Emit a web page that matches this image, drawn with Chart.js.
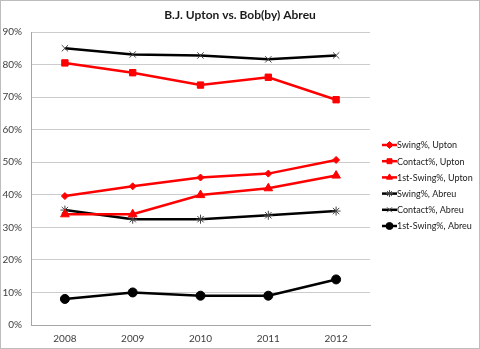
<!DOCTYPE html>
<html>
<head>
<meta charset="utf-8">
<script src="https://cdn.jsdelivr.net/npm/chart.js@4/dist/chart.umd.min.js"></script>
<style>
  html, body { margin: 0; padding: 0; background: #fff; }
  #wrap { width: 480px; height: 349px; position: relative; }
</style>
</head>
<body>
<div id="wrap"><canvas id="c" width="480" height="349"></canvas></div>
<script>
// Plate-discipline rates by season (percent)
const seasons = ['2008', '2009', '2010', '2011', '2012'];
const swingUpton        = [39.6, 42.6, 45.3, 46.5, 50.7];
const contactUpton      = [80.5, 77.5, 73.7, 76.1, 69.2];
const firstSwingUpton   = [34.0, 34.0, 39.9, 42.0, 45.9];
const swingAbreu        = [35.3, 32.5, 32.5, 33.7, 35.0];
const contactAbreu      = [85.0, 83.1, 82.8, 81.6, 82.8];
const firstSwingAbreu   = [8.0, 10.0, 9.0, 9.0, 14.0];
const yTicks = [0, 10, 20, 30, 40, 50, 60, 70, 80, 90];

const FONT = 'Lato, "Liberation Sans", sans-serif';
const RED = '#ff0000';
const BLACK = '#000000';

function series(label, data, color, style, radius, markerColor, markerWidth) {
  return {
    label, data,
    borderColor: color,
    backgroundColor: markerColor || color,
    borderWidth: 2.5,
    pointStyle: style,
    pointRadius: radius,
    pointHoverRadius: radius,
    pointBorderColor: markerColor || color,
    pointBackgroundColor: markerColor || color,
    pointBorderWidth: markerWidth || 1,
    tension: 0
  };
}

const datasets = [
  series('Swing%, Upton', swingUpton, RED, 'rectRot', 3.5),
  series('Contact%, Upton', contactUpton, RED, 'rect', 4.5),
  series('1st-Swing%, Upton', firstSwingUpton, RED, 'triangle', 5),
  series('Swing%, Abreu', swingAbreu, BLACK, 'star', 4.5, '#444444', 1),
  series('Contact%, Abreu', contactAbreu, BLACK, 'crossRot', 4.5, '#444444', 1),
  series('1st-Swing%, Abreu', firstSwingAbreu, BLACK, 'circle', 4.5)
];

// Title, chart frame and line+marker legend
const decorations = {
  id: 'decorations',
  afterDraw(chart) {
    const ctx = chart.ctx;
    ctx.save();
    // frame
    ctx.strokeStyle = '#bdbdbd';
    ctx.lineWidth = 1;
    ctx.strokeRect(0.5, 0.5, 479, 348);
    // title
    ctx.fillStyle = '#1a1a1a';
    ctx.font = 'bold 12px ' + FONT;
    ctx.textAlign = 'center';
    ctx.textBaseline = 'middle';
    ctx.fillText('B.J. Upton vs. Bob(by) Abreu', 240, 15);
    // legend
    ctx.font = '9px ' + FONT;
    ctx.textAlign = 'left';
    chart.data.datasets.forEach((ds, i) => {
      const y = 145 + i * 16.2;
      ctx.strokeStyle = ds.borderColor;
      ctx.lineWidth = 2.5;
      ctx.beginPath();
      ctx.moveTo(382, y);
      ctx.lineTo(397, y);
      ctx.stroke();
      ctx.fillStyle = ds.pointBackgroundColor;
      ctx.strokeStyle = ds.pointBorderColor;
      ctx.lineWidth = ds.pointBorderWidth;
      Chart.helpers.drawPoint(ctx, {
        pointStyle: ds.pointStyle,
        radius: Math.min(ds.pointRadius, 3.5),
        borderWidth: ds.pointBorderWidth,
        rotation: 0
      }, 389.5, y);
      ctx.fillStyle = '#1a1a1a';
      ctx.fillText(ds.label, 397, y + 0.5);
    });
    ctx.restore();
  }
};

new Chart(document.getElementById('c'), {
  type: 'line',
  data: { labels: seasons, datasets },
  options: {
    responsive: false,
    animation: false,
    events: [],
    layout: { padding: { left: 0, right: 110, top: 32, bottom: 4 } },
    plugins: {
      legend: { display: false },
      title: { display: false },
      tooltip: { enabled: false }
    },
    scales: {
      x: {
        offset: true,
        grid: { display: false, drawTicks: false },
        border: { display: true, color: '#a6a6a6', width: 1 },
        ticks: { color: '#404040', font: { family: FONT, size: 10 }, padding: 8, maxRotation: 0 },
        afterFit(scale) { scale.height = 20; }
      },
      y: {
        min: 0, max: 90,
        afterBuildTicks(scale) { scale.ticks = yTicks.map(v => ({ value: v })); },
        grid: { color: '#cccccc', lineWidth: 1, drawTicks: false },
        border: { display: true, color: '#a6a6a6', width: 1 },
        ticks: {
          color: '#404040',
          font: { family: FONT, size: 10 },
          padding: 9,
          callback: v => v + '%'
        },
        afterFit(scale) { scale.width = 31; }
      }
    }
  },
  plugins: [decorations]
});
</script>
</body>
</html>
